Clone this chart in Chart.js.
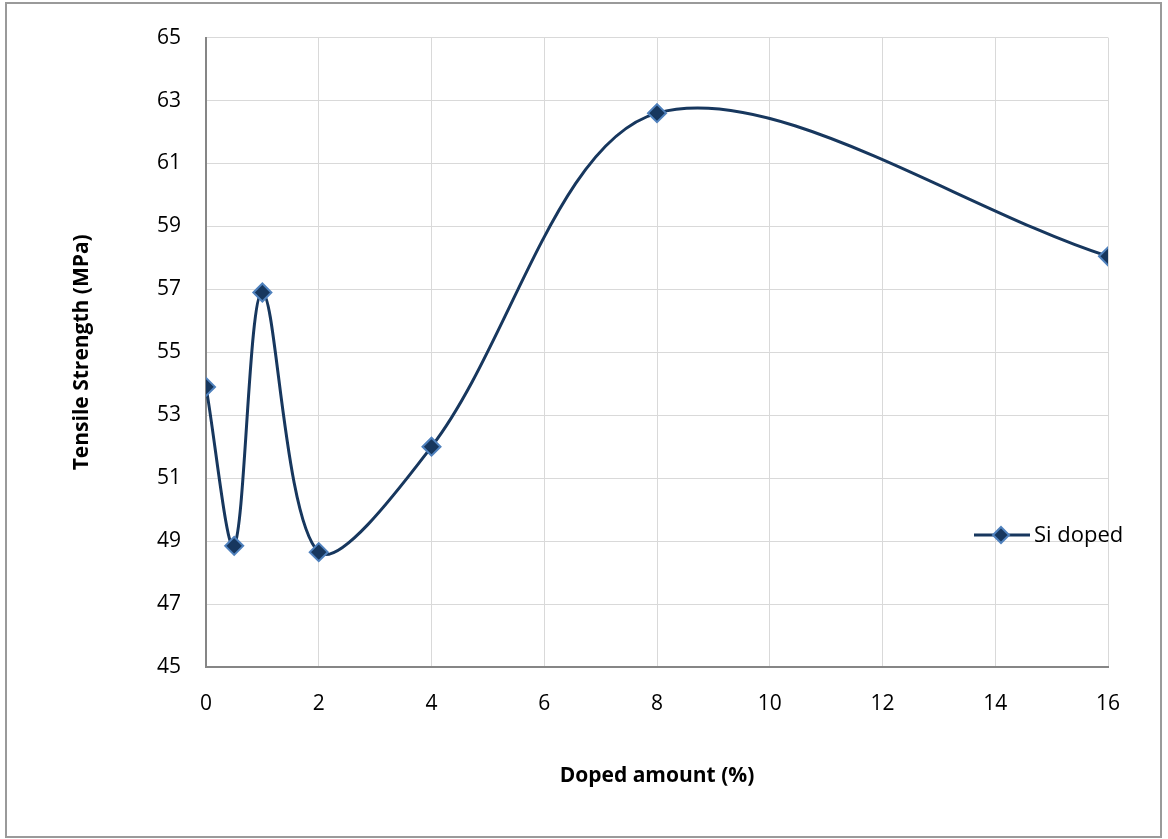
<!DOCTYPE html>
<html>
<head>
<meta charset="utf-8">
<script src="https://cdn.jsdelivr.net/npm/chart.js@4/dist/chart.umd.min.js"></script>
<style>
    html, body { margin: 0; padding: 0; background: #ffffff; }
    #wrap { width: 1168px; height: 839px; position: relative; }
</style>
</head>
<body>
<div id="wrap"><canvas id="canvas" width="1168" height="839"></canvas></div>
<script>
const dopedAmount = [0, 0.5, 1, 2, 4, 8, 16];
const tensileStrength = [53.9, 48.85, 56.9, 48.65, 52.0, 62.6, 58.05];
const seriesName = 'Si doped';

const lineColor = '#17375e';
const markerEdge = '#4f81bd';
const fontFamily = '"Open Sans", sans-serif';

// frame round the whole figure and the legend on the right
const framePlugin = {
    id: 'frame',
    afterDraw(chart) {
        const ctx = chart.ctx;
        ctx.save();
        ctx.strokeStyle = '#9a9a9a';
        ctx.lineWidth = 2;
        ctx.strokeRect(6, 3, 1155, 834);

        const y = 535;
        ctx.strokeStyle = lineColor;
        ctx.lineWidth = 3;
        ctx.beginPath();
        ctx.moveTo(974, y);
        ctx.lineTo(1030, y);
        ctx.stroke();

        ctx.beginPath();
        ctx.moveTo(1001, y - 8);
        ctx.lineTo(1009, y);
        ctx.lineTo(1001, y + 8);
        ctx.lineTo(993, y);
        ctx.closePath();
        ctx.fillStyle = lineColor;
        ctx.fill();
        ctx.strokeStyle = markerEdge;
        ctx.lineWidth = 2;
        ctx.stroke();

        ctx.fillStyle = '#000000';
        ctx.font = '22px ' + fontFamily;
        ctx.textBaseline = 'middle';
        ctx.fillText(seriesName, 1034, y + 1);
        ctx.restore();
    }
};

const ctx = document.getElementById('canvas').getContext('2d');
new Chart(ctx, {
    type: 'line',
    data: {
        datasets: [{
            label: seriesName,
            data: dopedAmount.map((x, i) => ({ x: x, y: tensileStrength[i] })),
            borderColor: lineColor,
            borderWidth: 3,
            tension: 0.32,
            pointStyle: 'rectRot',
            pointRadius: 9,
            pointBackgroundColor: lineColor,
            pointBorderColor: markerEdge,
            pointBorderWidth: 2,
        }]
    },
    options: {
        responsive: false,
        animation: false,
        layout: { padding: { top: 37, right: 60, left: 0, bottom: 0 } },
        plugins: { legend: { display: false }, tooltip: { enabled: false } },
        scales: {
            x: {
                type: 'linear',
                min: 0, max: 16,
                afterFit: s => { s.height = 172; },
                ticks: { stepSize: 2, color: '#000000', padding: 24, font: { family: fontFamily, size: 21 } },
                grid: { color: '#d9d9d9', lineWidth: 1, drawTicks: false },
                border: { color: '#868686', width: 2 },
                title: {
                    display: true, text: 'Doped amount (%)', color: '#000000',
                    padding: { bottom: 50 },
                    font: { family: fontFamily, size: 21, weight: 'bold' }
                }
            },
            y: {
                min: 45, max: 65,
                afterFit: s => { s.width = 206; },
                ticks: { stepSize: 2, color: '#000000', padding: 25, font: { family: fontFamily, size: 21 } },
                grid: { color: '#d9d9d9', lineWidth: 1, drawTicks: false },
                border: { color: '#868686', width: 2 },
                title: {
                    display: true, text: 'Tensile Strength (MPa)', color: '#000000',
                    padding: { top: 69 },
                    font: { family: fontFamily, size: 21, weight: 'bold' }
                }
            }
        }
    },
    plugins: [framePlugin]
});
</script>
</body>
</html>
